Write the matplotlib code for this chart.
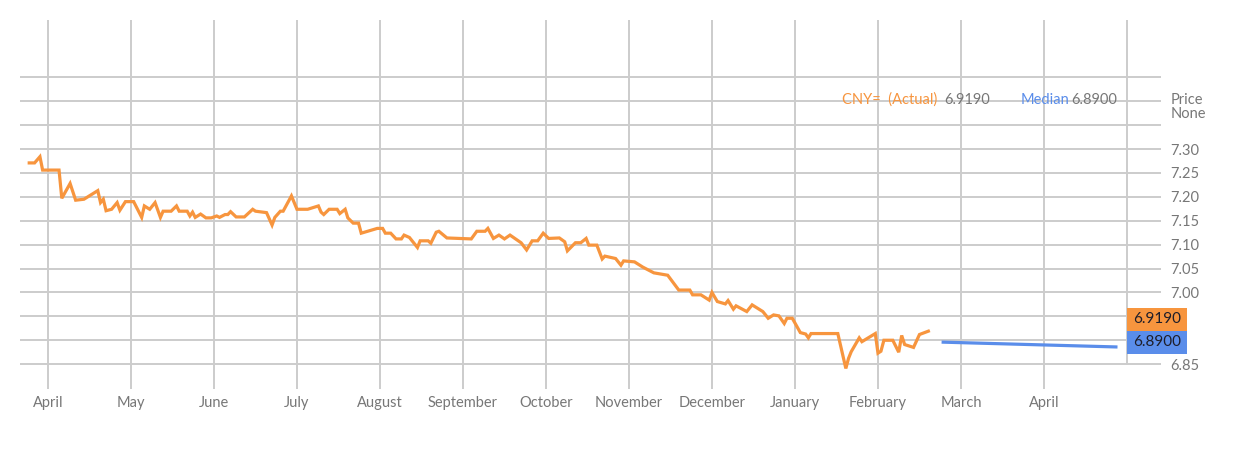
import pandas as pd
import numpy as np
import matplotlib
matplotlib.use("Agg")
import matplotlib.pyplot as plt
from matplotlib.patches import Rectangle

plt.rcParams["font.family"] = ["Lato", "DejaVu Sans"]

# CNY= actual series
dates = ["2024-03-25", "2024-03-27", "2024-03-29", "2024-03-30", "2024-04-05",
         "2024-04-06", "2024-04-09", "2024-04-11", "2024-04-14", "2024-04-19",
         "2024-04-20", "2024-04-21", "2024-04-22", "2024-04-24", "2024-04-26",
         "2024-04-27", "2024-04-29", "2024-05-02", "2024-05-05", "2024-05-06",
         "2024-05-08", "2024-05-10", "2024-05-12", "2024-05-13", "2024-05-16",
         "2024-05-18", "2024-05-19", "2024-05-22", "2024-05-23", "2024-05-24",
         "2024-05-25", "2024-05-27", "2024-05-29", "2024-05-31", "2024-06-02",
         "2024-06-03", "2024-06-05", "2024-06-06", "2024-06-07", "2024-06-09",
         "2024-06-12", "2024-06-15", "2024-06-16", "2024-06-20", "2024-06-22",
         "2024-06-23", "2024-06-25", "2024-06-26", "2024-06-29", "2024-07-01",
         "2024-07-05", "2024-07-09", "2024-07-10", "2024-07-11", "2024-07-13",
         "2024-07-16", "2024-07-17", "2024-07-19", "2024-07-20", "2024-07-22",
         "2024-07-24", "2024-07-25", "2024-07-31", "2024-08-02", "2024-08-03",
         "2024-08-05", "2024-08-07", "2024-08-09", "2024-08-10", "2024-08-12",
         "2024-08-15", "2024-08-16", "2024-08-19", "2024-08-20", "2024-08-22",
         "2024-08-23", "2024-08-26", "2024-09-04", "2024-09-06", "2024-09-09",
         "2024-09-10", "2024-09-12", "2024-09-14", "2024-09-16", "2024-09-18",
         "2024-09-22", "2024-09-24", "2024-09-26", "2024-09-28", "2024-09-30",
         "2024-10-02", "2024-10-06", "2024-10-08", "2024-10-09", "2024-10-12",
         "2024-10-14", "2024-10-16", "2024-10-17", "2024-10-20", "2024-10-22",
         "2024-10-23", "2024-10-27", "2024-10-29", "2024-10-30", "2024-11-03",
         "2024-11-06", "2024-11-10", "2024-11-15", "2024-11-19", "2024-11-23",
         "2024-11-24", "2024-11-27", "2024-11-30", "2024-12-01", "2024-12-03",
         "2024-12-06", "2024-12-07", "2024-12-09", "2024-12-10", "2024-12-14",
         "2024-12-16", "2024-12-20", "2024-12-22", "2024-12-24", "2024-12-26",
         "2024-12-28", "2024-12-29", "2024-12-31", "2025-01-03", "2025-01-05",
         "2025-01-06", "2025-01-07", "2025-01-17", "2025-01-20", "2025-01-21",
         "2025-01-22", "2025-01-25", "2025-01-26", "2025-01-31", "2025-02-01",
         "2025-02-02", "2025-02-03", "2025-02-06", "2025-02-08", "2025-02-09",
         "2025-02-10", "2025-02-13", "2025-02-15", "2025-02-18"]
actual = [7.271, 7.271, 7.284, 7.256, 7.256, 7.197, 7.228, 7.193, 7.195, 7.213,
          7.188, 7.195, 7.171, 7.174, 7.188, 7.172, 7.190, 7.190, 7.157, 7.181,
          7.174, 7.188, 7.157, 7.170, 7.170, 7.181, 7.170, 7.170, 7.160, 7.168,
          7.157, 7.164, 7.156, 7.156, 7.160, 7.157, 7.163, 7.163, 7.169, 7.158,
          7.158, 7.174, 7.170, 7.167, 7.141, 7.157, 7.170, 7.170, 7.202, 7.174,
          7.174, 7.181, 7.168, 7.163, 7.174, 7.174, 7.165, 7.174, 7.156, 7.145,
          7.145, 7.124, 7.134, 7.134, 7.124, 7.124, 7.112, 7.112, 7.120, 7.115,
          7.094, 7.108, 7.108, 7.103, 7.126, 7.128, 7.114, 7.112, 7.128, 7.128,
          7.134, 7.113, 7.120, 7.112, 7.120, 7.104, 7.089, 7.108, 7.108, 7.124,
          7.113, 7.114, 7.106, 7.087, 7.104, 7.104, 7.113, 7.099, 7.099, 7.070,
          7.076, 7.071, 7.057, 7.066, 7.064, 7.053, 7.041, 7.036, 7.005, 7.005,
          6.995, 6.995, 6.984, 7.000, 6.981, 6.976, 6.983, 6.965, 6.972, 6.960,
          6.974, 6.960, 6.946, 6.953, 6.951, 6.935, 6.946, 6.946, 6.916, 6.913,
          6.905, 6.914, 6.914, 6.841, 6.862, 6.876, 6.905, 6.897, 6.914, 6.873,
          6.877, 6.900, 6.900, 6.875, 6.910, 6.891, 6.885, 6.912, 6.919]

# median forecast
median_dates = ["2025-02-23", "2025-04-27"]
median_vals = [6.896, 6.886]

last_actual = 6.9190
last_median = 6.8900

month_labels = ["April", "May", "June", "July", "August", "September",
                "October", "November", "December", "January", "February",
                "March", "April"]
y_ticks = [6.85, 6.90, 6.95, 7.00, 7.05, 7.10, 7.15, 7.20, 7.25, 7.30,
           7.35, 7.40, 7.45]
# 6.90 / 6.95 sit under the value boxes, the top three are unlabeled
y_labels = ["6.85", "", "", "7.00", "7.05", "7.10", "7.15", "7.20", "7.25",
            "7.30", "", "", ""]

ORANGE = "#F7953E"
BLUE = "#5A8DEA"
GRID = "#cccccc"
TXT = "#777777"


# months are spaced evenly, so position = month index + fraction of month
def month_pos(ds):
    d = pd.to_datetime(pd.Series(ds))
    return ((d.dt.year - 2024) * 12 + d.dt.month - 4
            + (d.dt.day - 1) / d.dt.days_in_month).to_numpy()


x_act = month_pos(dates)
x_med = month_pos(median_dates)

fig = plt.figure(figsize=(12.38, 4.59), dpi=100)
ax = fig.add_axes([20 / 1238, 70 / 459, 1141 / 1238, 369 / 459])
ax.set_xlim(-0.337, 13.41)
ax.set_ylim(6.798, 7.570)
for s in ax.spines.values():
    s.set_visible(False)

# gridlines
for v in y_ticks:
    ax.axhline(v, color=GRID, lw=1.4, zorder=0)
y0, y1 = ax.get_ylim()
for i in range(13):
    ax.axvline(i, color=GRID, lw=1.4, zorder=0)
ax.axvline(13, ymin=(6.85 - y0) / (y1 - y0), color=GRID, lw=1.4, zorder=0)

ax.plot(x_act, actual, color=ORANGE, lw=2.3, solid_joinstyle="miter", zorder=3)
ax.plot(x_med, median_vals, color=BLUE, lw=2.3, zorder=3)

# axes ticks
ax.set_xticks(range(13))
ax.set_xticklabels(month_labels)
ax.yaxis.tick_right()
ax.set_yticks(y_ticks)
ax.set_yticklabels(y_labels)
ax.tick_params(axis="x", length=0, pad=5, labelsize=10.5, labelcolor=TXT)
ax.tick_params(axis="y", length=0, pad=7, labelsize=10.5, labelcolor=TXT)

# value boxes on the right
box_h = 0.048
blue_bottom = last_median - 0.37 * box_h
for bottom, col, val in [(blue_bottom, BLUE, last_median),
                         (blue_bottom + box_h, ORANGE, last_actual)]:
    ax.add_patch(Rectangle((13.0, bottom), 0.723, box_h, facecolor=col,
                           edgecolor="none", clip_on=False, zorder=4))
    ax.text(13.0 + 0.723 / 2, bottom + box_h / 2, f"{val:.4f}", ha="center",
            va="center", fontsize=11, color="#1e1e2a", clip_on=False,
            zorder=5)

# legend-like header
ly = 1 - 100 / 459
fig.text(937 / 1238, ly, "CNY=  (Actual)", color=ORANGE, ha="right",
         va="center", fontsize=10.5)
fig.text(990 / 1238, ly, f"{last_actual:.4f}", color=TXT, ha="right",
         va="center", fontsize=10.5)
fig.text(1069 / 1238, ly, "Median", color=BLUE, ha="right", va="center",
         fontsize=10.5)
fig.text(1117 / 1238, ly, f"{last_median:.4f}", color=TXT, ha="right",
         va="center", fontsize=10.5)
fig.text(1171 / 1238, ly, "Price", color=TXT, ha="left", va="center",
         fontsize=10.5)
fig.text(1171 / 1238, 1 - 114 / 459, "None", color=TXT, ha="left",
         va="center", fontsize=10.5)

fig.savefig("out.png", dpi=100)
